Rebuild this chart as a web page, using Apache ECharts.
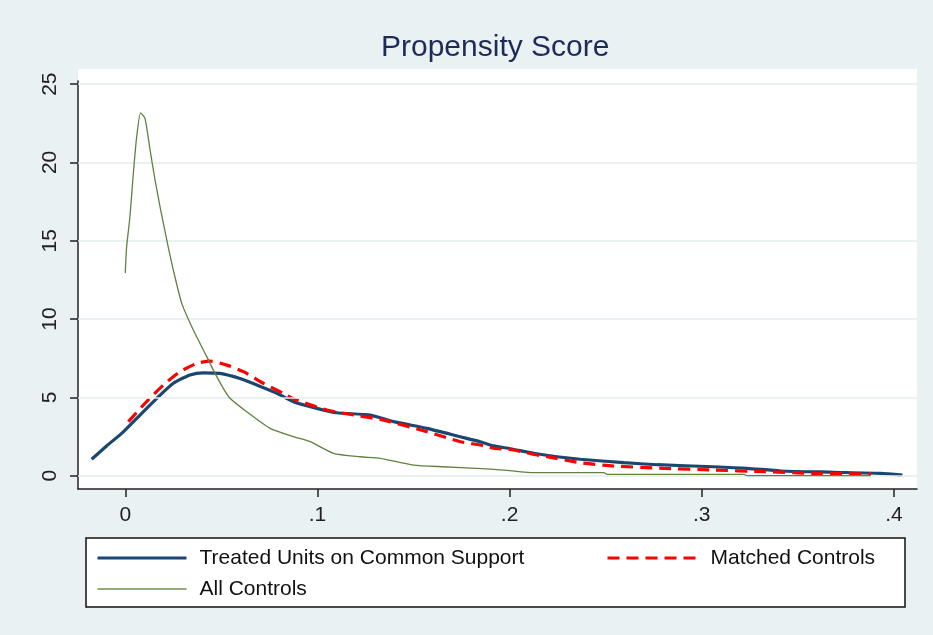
<!DOCTYPE html>
<html>
<head>
<meta charset="utf-8">
<script src="https://cdn.jsdelivr.net/npm/echarts@6/dist/echarts.min.js"></script>
<style>
html,body{margin:0;padding:0;background:#eaf1f3;}
#chart{width:933px;height:635px;}
</style>
</head>
<body>
<div id="chart"></div>
<script>
// ---- data ----
const treatedX = [-0.0175, -0.0097, -0.001, 0.0077, 0.0164, 0.025, 0.0337, 0.0406, 0.0493, 0.0597, 0.0684, 0.0789, 0.0875, 0.0997, 0.110, 0.1275, 0.1396, 0.157, 0.1743, 0.1847, 0.1917, 0.2004, 0.2125, 0.2247, 0.2368, 0.2594, 0.2768, 0.306, 0.3236, 0.341, 0.3687, 0.393, 0.4044];
const treatedY = [1.05, 1.9, 2.8, 3.87, 4.94, 5.9, 6.43, 6.57, 6.53, 6.2, 5.79, 5.26, 4.72, 4.3, 4.02, 3.87, 3.45, 3.02, 2.49, 2.17, 1.9, 1.72, 1.43, 1.21, 1.05, 0.83, 0.70, 0.57, 0.47, 0.30, 0.22, 0.15, 0.04];

const matchedX = [0.0016, 0.011, 0.0198, 0.0285, 0.0372, 0.0441, 0.0528, 0.0615, 0.0719, 0.0823, 0.0875, 0.1049, 0.1222, 0.1344, 0.157, 0.1743, 0.1847, 0.1917, 0.202, 0.2143, 0.2195, 0.2368, 0.254, 0.280, 0.306, 0.332, 0.358, 0.388];
const matchedY = [3.45, 4.72, 5.79, 6.64, 7.17, 7.32, 7.06, 6.64, 5.9, 5.26, 4.9, 4.19, 3.81, 3.55, 2.81, 2.17, 1.96, 1.75, 1.64, 1.32, 1.21, 0.83, 0.62, 0.47, 0.36, 0.26, 0.15, 0.11];

const allX = [0.0, 0.0007, 0.0024, 0.0042, 0.0059, 0.008, 0.0103, 0.0129, 0.0155, 0.0181, 0.0216, 0.025, 0.0294, 0.0354, 0.0424, 0.0467, 0.051, 0.0545, 0.0632, 0.0754, 0.0875, 0.0962, 0.1083, 0.1222, 0.1327, 0.150, 0.1656, 0.183, 0.1969, 0.2108, 0.249, 0.2507, 0.322, 0.3236, 0.388];
const allY = [12.95, 14.6, 16.5, 19.3, 21.6, 23.17, 22.8, 20.8, 18.87, 17.17, 15.04, 13.13, 11.0, 9.3, 7.6, 6.53, 5.58, 4.94, 4.08, 3.02, 2.49, 2.17, 1.43, 1.21, 1.11, 0.68, 0.57, 0.47, 0.36, 0.2, 0.2, 0.09, 0.09, 0.0, 0.0];

const seriesNames = ['Treated Units on Common Support', 'Matched Controls', 'All Controls'];
const xTicks = [0, 0.1, 0.2, 0.3, 0.4];
const yTicks = [0, 5, 10, 15, 20, 25];
const titleText = 'Propensity Score';

// ---- chart ----
const pairs = (xs, ys) => xs.map((x, i) => [x, ys[i]]);
const FONT = '"Liberation Sans", Arial, sans-serif';
const chart = echarts.init(document.getElementById('chart'), null, {renderer: 'canvas'});

const legendCommon = {
  orient: 'vertical', top: 546, padding: 0,
  itemWidth: 89, itemHeight: 14, itemGap: 7,
  itemStyle: {opacity: 0},
  textStyle: {fontFamily: FONT, fontSize: 21, color: '#111', lineHeight: 24}
};

chart.setOption({
  backgroundColor: '#eaf1f3',
  animation: false,
  title: {
    text: titleText,
    left: 381,
    top: 33,
    padding: 0,
    textStyle: {fontFamily: FONT, fontSize: 30, fontWeight: 'normal', color: '#1e2b58'}
  },
  graphic: [
    {type: 'rect', z: -10, shape: {x: 78, y: 69, width: 839, height: 420}, style: {fill: '#ffffff'}},
    {type: 'rect', z: -10, shape: {x: 86, y: 538, width: 819, height: 69}, style: {fill: '#ffffff', stroke: '#111', lineWidth: 1.5}}
  ],
  legend: [
    Object.assign({}, legendCommon, {
      data: [
        {name: seriesNames[0], lineStyle: {width: 3}},
        {name: seriesNames[2], lineStyle: {width: 1.6, color: '#6f8f4e'}}
      ],
      left: 96,
      textStyle: Object.assign({}, legendCommon.textStyle, {padding: [0, 0, 0, 8]})
    }),
    Object.assign({}, legendCommon, {
      data: [{name: seriesNames[1], lineStyle: {width: 3}}],
      left: 606,
      textStyle: Object.assign({}, legendCommon.textStyle, {padding: [0, 0, 0, 9]})
    })
  ],
  grid: {left: 78, right: 16, top: 81, bottom: 146, containLabel: false},
  xAxis: {
    type: 'value', min: -0.0246, max: 0.412,
    axisLine: {show: true, onZero: false, lineStyle: {color: '#222', width: 1.5}},
    axisTick: {show: true, length: 8, customValues: xTicks, lineStyle: {color: '#222', width: 1.5}},
    axisLabel: {
      customValues: xTicks, margin: 16,
      fontFamily: FONT, fontSize: 21, color: '#222',
      formatter: v => v === 0 ? '0' : String(Math.round(v * 10) / 10).replace(/^0/, '')
    },
    splitLine: {show: false}
  },
  yAxis: {
    type: 'value', min: -0.85, max: 25.2,
    axisLine: {show: true, onZero: false, lineStyle: {color: '#222', width: 1.5}},
    axisTick: {show: true, length: 8, customValues: yTicks, lineStyle: {color: '#222', width: 1.5}},
    axisLabel: {
      customValues: yTicks, rotate: 90, margin: 17,
      fontFamily: FONT, fontSize: 21, color: '#222'
    },
    splitLine: {show: false}
  },
  series: [
    {
      name: '__grid', type: 'line', data: [], z: 1, silent: true,
      markLine: {
        silent: true, symbol: 'none', label: {show: false}, animation: false,
        lineStyle: {color: '#e3eded', width: 1.5, type: 'solid'},
        data: yTicks.map(v => ({yAxis: v}))
      }
    },
    {
      name: seriesNames[0], type: 'line', showSymbol: false, symbol: 'none', smooth: 0.2, z: 3,
      data: pairs(treatedX, treatedY),
      lineStyle: {color: '#1a476f', width: 3.2},
      itemStyle: {color: '#1a476f'}
    },
    {
      name: seriesNames[1], type: 'line', showSymbol: false, symbol: 'none', smooth: 0.2, z: 4,
      data: pairs(matchedX, matchedY),
      lineStyle: {color: '#ff0000', width: 3.2, type: [12, 7]},
      itemStyle: {color: '#ff0000'}
    },
    {
      name: seriesNames[2], type: 'line', showSymbol: false, symbol: 'none', smooth: 0.2, z: 5,
      data: pairs(allX, allY),
      lineStyle: {color: '#5f8240', width: 1.3},
      itemStyle: {color: '#5f8240'}
    }
  ]
});
</script>
</body>
</html>
